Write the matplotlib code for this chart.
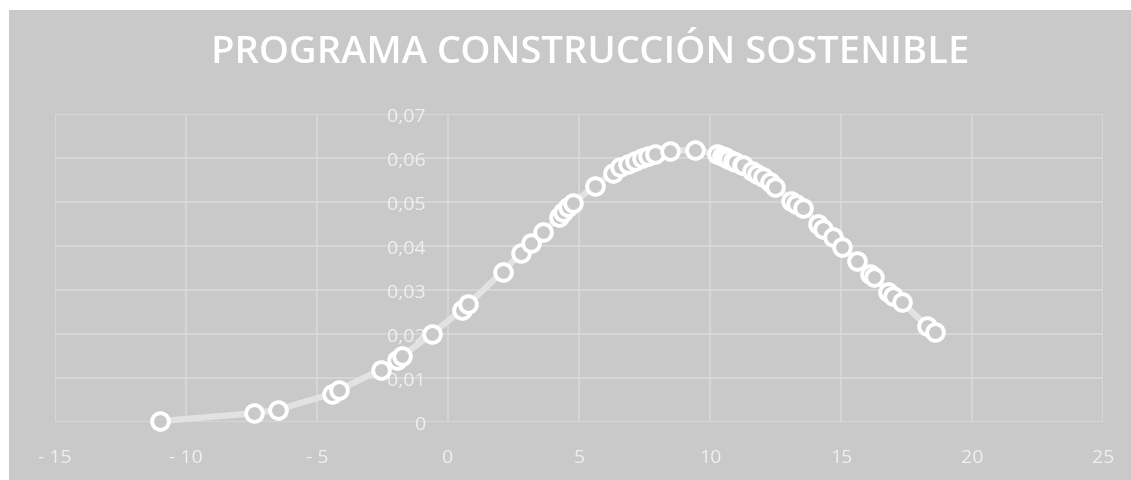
import matplotlib
matplotlib.use("Agg")
import matplotlib.pyplot as plt
from matplotlib.patches import Rectangle
from matplotlib.ticker import FuncFormatter

title = "PROGRAMA CONSTRUCCIÓN SOSTENIBLE"

x_vals = [-10.99, -7.40, -6.49, -4.44, -4.15, -2.57, -1.96, -1.77, -0.62, 0.52,
          0.78, 2.09, 2.77, 3.16, 3.61, 4.25, 4.40, 4.59, 4.78, 5.61,
          6.30, 6.56, 6.88, 7.14, 7.39, 7.65, 7.90, 8.47, 9.43, 10.25,
          10.44, 10.57, 10.70, 10.89, 10.95, 11.21, 11.27, 11.59, 11.78, 12.04,
          12.29, 12.48, 13.11, 13.30, 13.56, 14.13, 14.33, 14.71, 15.03, 15.60,
          16.11, 16.25, 16.81, 17.00, 17.32, 18.27, 18.59]
y_vals = [0.0002, 0.0020, 0.0028, 0.0064, 0.0073, 0.0119, 0.0142, 0.0149, 0.0200, 0.0255,
          0.0268, 0.0342, 0.0383, 0.0407, 0.0432, 0.0465, 0.0477, 0.0488, 0.0498, 0.0537,
          0.0567, 0.0579, 0.0586, 0.0594, 0.0600, 0.0605, 0.0609, 0.0617, 0.0618, 0.0609,
          0.0604, 0.0602, 0.0598, 0.0594, 0.0590, 0.0585, 0.0583, 0.0571, 0.0564, 0.0556,
          0.0545, 0.0535, 0.0503, 0.0495, 0.0486, 0.0450, 0.0439, 0.0420, 0.0397, 0.0367,
          0.0336, 0.0330, 0.0295, 0.0287, 0.0272, 0.0219, 0.0204]

x_ticks = [-15, -10, -5, 0, 5, 10, 15, 20, 25]
y_ticks = [0, 0.01, 0.02, 0.03, 0.04, 0.05, 0.06, 0.07]

BG = "#c9c9c9"
GRID = "#d9d9d9"
TXT = "#f0f0f0"

W, H = 1131, 481
fig = plt.figure(figsize=(W / 100, H / 100), dpi=100, facecolor="white")
bg = Rectangle((9 / W, 0), 1 - 9 / W, 1 - 11 / H, transform=fig.transFigure,
               facecolor=BG, edgecolor="none", zorder=-10)
fig.add_artist(bg)

ax = fig.add_axes([55 / W, 1 - 423 / H, (1103 - 55) / W, (423 - 115) / H])
ax.patch.set_visible(False)
ax.set_xlim(-15, 25)
ax.set_ylim(0, 0.07)
ax.set_xticks(x_ticks)
ax.set_yticks(y_ticks)
ax.grid(True, color=GRID, linewidth=1.2)
ax.set_axisbelow(True)
for s in ["top", "right", "bottom"]:
    ax.spines[s].set_visible(False)
ax.spines["left"].set_position(("data", 0))
ax.spines["left"].set_visible(False)
ax.tick_params(length=0, colors=TXT, labelsize=14)
ax.tick_params(axis="x", pad=19)
ax.tick_params(axis="y", pad=16)
ax.xaxis.set_major_formatter(FuncFormatter(lambda v, p: f"{int(v)}".replace("-", "- ")))
ax.yaxis.set_major_formatter(FuncFormatter(lambda v, p: "0" if v == 0 else f"{v:.2f}".replace(".", ",")))
for lab in ax.get_xticklabels() + ax.get_yticklabels():
    lab.set_fontfamily("Open Sans")

ax.plot(x_vals, y_vals, color="#e2e2e2", linewidth=4.5, zorder=2,
        marker="o", markersize=12, markerfacecolor=BG, markeredgecolor="white",
        markeredgewidth=2.8, clip_on=False)

fig.text(590 / W, 1 - 53 / H, title, ha="center", va="center", color="white",
         fontsize=27.5, fontweight=600, family="Open Sans")

fig.savefig("out.png", dpi=100, facecolor="white")
